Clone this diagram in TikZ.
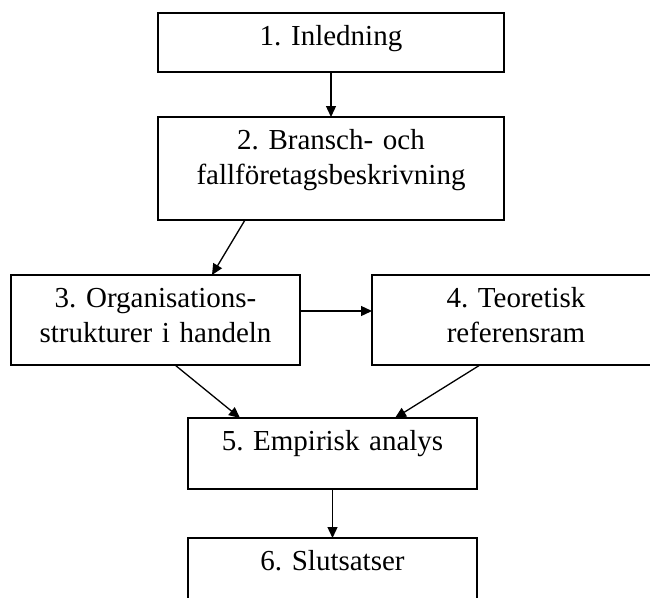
\documentclass[tikz,border=0pt]{standalone}
\usepackage{fontspec}
\setmainfont{Liberation Serif}
\frenchspacing
\usetikzlibrary{arrows.meta, positioning}
\tikzset{
  stage/.style={
    rectangle, draw=black, line width=1.8pt, inner sep=0pt, outer sep=0pt,
    align=center, anchor=north west, text height=32pt,
    font=\fontsize{29}{35}\selectfont
  },
  arrow/.style={-{Triangle[length=11pt, width=10pt]}, line width=1.3pt}
}

\begin{document}
\begin{tikzpicture}[x=1pt, y=-1pt]
  \useasboundingbox (0,0) rectangle (650,597);

  % Rutor
  \node[stage, text width=346pt, text depth=27pt] (intro) at (158,13)
    {1. Inledning};

  \node[stage, text width=346pt, text depth=71pt, below=45pt of intro] (bransch)
    {2. Bransch- och\\fallföretagsbeskrivning};

  \node[stage, text width=289pt, text depth=58pt] (org) at (11,275)
    {3. Organisations-\\strukturer i handeln};

  \node[stage, text width=288pt, text depth=58pt] (teori) at (372,275)
    {4. Teoretisk\\referensram};

  \node[stage, text width=289pt, text depth=39pt] (empiri) at (188,418)
    {5. Empirisk analys};

  \node[stage, text width=289pt, text depth=39pt, below=49pt of empiri] (slut)
    {6. Slutsatser};

  % Pilar
  \draw[arrow] (intro) -- (bransch);
  \draw[arrow] ([xshift=87pt]bransch.south west) -- ([xshift=201pt]org.north west);
  \draw[arrow] ([yshift=9pt]org.east) -- ([yshift=9pt]teori.west);
  \draw[arrow] ([xshift=164pt]org.south west) -- ([xshift=52pt]empiri.north west);
  \draw[arrow] ([xshift=108pt]teori.south west) -- ([xshift=207pt]empiri.north west);
  \draw[arrow] (empiri) -- (slut);

\end{tikzpicture}
\end{document}
